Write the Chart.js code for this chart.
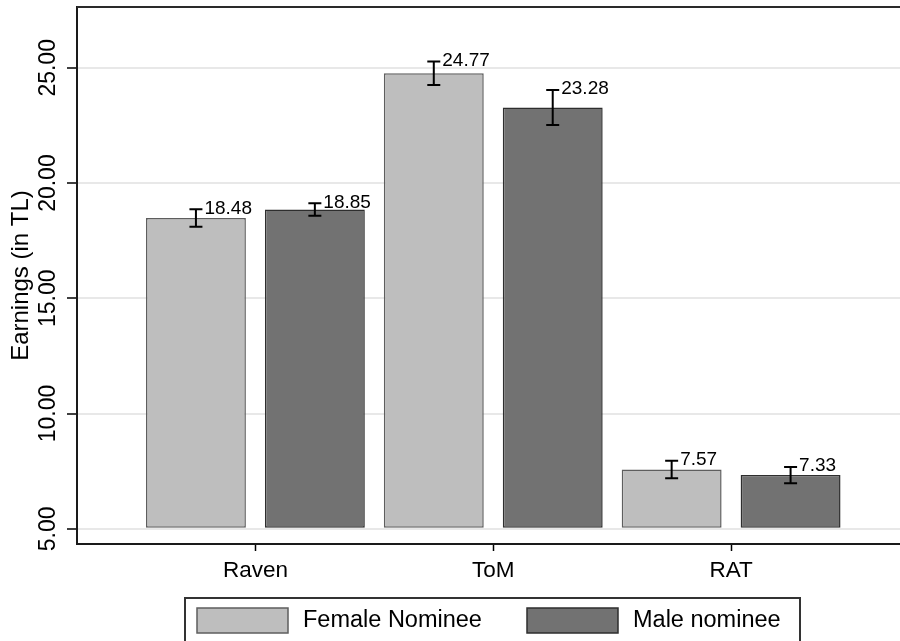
<!DOCTYPE html>
<html><head><meta charset="utf-8">
<script src="https://cdn.jsdelivr.net/npm/chart.js@4"></script>
<style>html,body{margin:0;padding:0;background:#fff}</style>
</head><body>
<canvas id="c" width="900" height="641"></canvas>
<script>
// ---- data ----
const categories = ['Raven', 'ToM', 'RAT'];
const seriesNames = ['Female Nominee', 'Male nominee'];
const femaleMeans = [18.48, 24.77, 7.57];
const maleMeans = [18.85, 23.28, 7.33];
const femaleCILow = [18.10, 24.26, 7.19];
const femaleCIHigh = [18.86, 25.28, 7.95];
const maleCILow = [18.58, 22.52, 6.98];
const maleCIHigh = [19.12, 24.04, 7.68];
const yTicks = [5, 10, 15, 20, 25];
const barBase = 5;

const FONT = '"Liberation Sans", Arial, Helvetica, sans-serif';
Chart.defaults.font.family = FONT;
Chart.defaults.color = '#000';

const femaleColor = '#bebebe', maleColor = '#727272';
const femaleBorder = '#5e5e5e', maleBorder = '#2e2e2e';

function pts(arr, offset) { return arr.map((v, i) => ({ x: 2 * i + offset, y: v })); }

const errPlugin = {
  id: 'errbars',
  afterDatasetsDraw(chart) {
    const ctx = chart.ctx, ys = chart.scales.y;
    chart.data.datasets.forEach((ds, di) => {
      const meta = chart.getDatasetMeta(di);
      meta.data.forEach((bar, i) => {
        const x = bar.x;
        const yl = ys.getPixelForValue(ds.ciLow[i]);
        const yh = ys.getPixelForValue(ds.ciHigh[i]);
        ctx.save();
        ctx.strokeStyle = '#000';
        ctx.lineWidth = 2;
        ctx.beginPath();
        ctx.moveTo(x, yl); ctx.lineTo(x, yh);
        ctx.moveTo(x - 6.5, yl); ctx.lineTo(x + 6.5, yl);
        ctx.moveTo(x - 6.5, yh); ctx.lineTo(x + 6.5, yh);
        ctx.stroke();
        ctx.fillStyle = '#000';
        ctx.font = '19px ' + FONT;
        ctx.textAlign = 'left';
        ctx.textBaseline = 'middle';
        ctx.fillText(ds.data[i].y.toFixed(2), x + 8.5, yh - 1);
        ctx.restore();
      });
    });
  },
  afterDraw(chart) {
    const ctx = chart.ctx, a = chart.chartArea;
    ctx.save();
    // top frame line
    ctx.strokeStyle = '#2a2a2a';
    ctx.lineWidth = 2;
    ctx.beginPath();
    ctx.moveTo(a.left, a.top); ctx.lineTo(a.right, a.top);
    ctx.stroke();
    // legend box
    ctx.strokeStyle = '#333';
    ctx.lineWidth = 2;
    ctx.strokeRect(185, 598, 615, 80);
    const swX = [197, 527];
    chart.data.datasets.forEach((ds, k) => {
      ctx.fillStyle = ds.backgroundColor;
      ctx.fillRect(swX[k], 608, 91, 25);
      ctx.strokeStyle = ds.borderColor;
      ctx.lineWidth = 1.5;
      ctx.strokeRect(swX[k], 608, 91, 25);
      ctx.fillStyle = '#000';
      ctx.font = '23.5px ' + FONT;
      ctx.textAlign = 'left';
      ctx.textBaseline = 'middle';
      ctx.fillText(ds.label, swX[k] + 106, 621);
    });
    ctx.restore();
  }
};

new Chart(document.getElementById('c'), {
  type: 'bar',
  data: {
    datasets: [
      { label: seriesNames[0], data: pts(femaleMeans, 1), ciLow: femaleCILow, ciHigh: femaleCIHigh,
        backgroundColor: femaleColor, borderColor: femaleBorder, borderWidth: 1.5, borderSkipped: false, base: barBase },
      { label: seriesNames[1], data: pts(maleMeans, 2), ciLow: maleCILow, ciHigh: maleCIHigh,
        backgroundColor: maleColor, borderColor: maleBorder, borderWidth: 1.5, borderSkipped: false, base: barBase }
    ]
  },
  options: {
    responsive: false,
    animation: false,
    grouped: false,
    barPercentage: 0.84,
    categoryPercentage: 1,
    layout: { padding: { top: 7, right: 0, bottom: 0, left: 0 } },
    plugins: { legend: { display: false }, tooltip: { enabled: false } },
    scales: {
      x: {
        type: 'linear',
        offset: false,
        min: 0, max: 6.92,
        afterFit: s => { s.height = 97; },
        afterBuildTicks: s => { s.ticks = categories.map((c, i) => ({ value: 2 * i + 1.5 })); },
        ticks: {
          callback: (v, i) => categories[i],
          font: { size: 22.5 }, padding: 6, minRotation: 0, maxRotation: 0, autoSkip: false
        },
        grid: { offset: false, drawOnChartArea: false, tickColor: '#000', tickLength: 7, tickWidth: 1.5 },
        border: { color: '#1a1a1a', width: 2 }
      },
      y: {
        min: 4.34, max: 27.64,
        afterFit: s => { s.width = 77; },
        afterBuildTicks: s => { s.ticks = yTicks.map(v => ({ value: v })); },
        ticks: {
          callback: v => Number(v).toFixed(2),
          font: { size: 23 }, minRotation: 90, maxRotation: 90, crossAlign: 'center', padding: -10.5
        },
        grid: { color: '#e8e8e8', lineWidth: 2, tickColor: '#000', tickLength: 10, tickWidth: 1.5 },
        border: { color: '#1a1a1a', width: 2 },
        title: { display: true, text: 'Earnings (in TL)', font: { size: 24 }, padding: { top: 7, bottom: 0 } }
      }
    }
  },
  plugins: [errPlugin]
});
</script>
</body></html>
